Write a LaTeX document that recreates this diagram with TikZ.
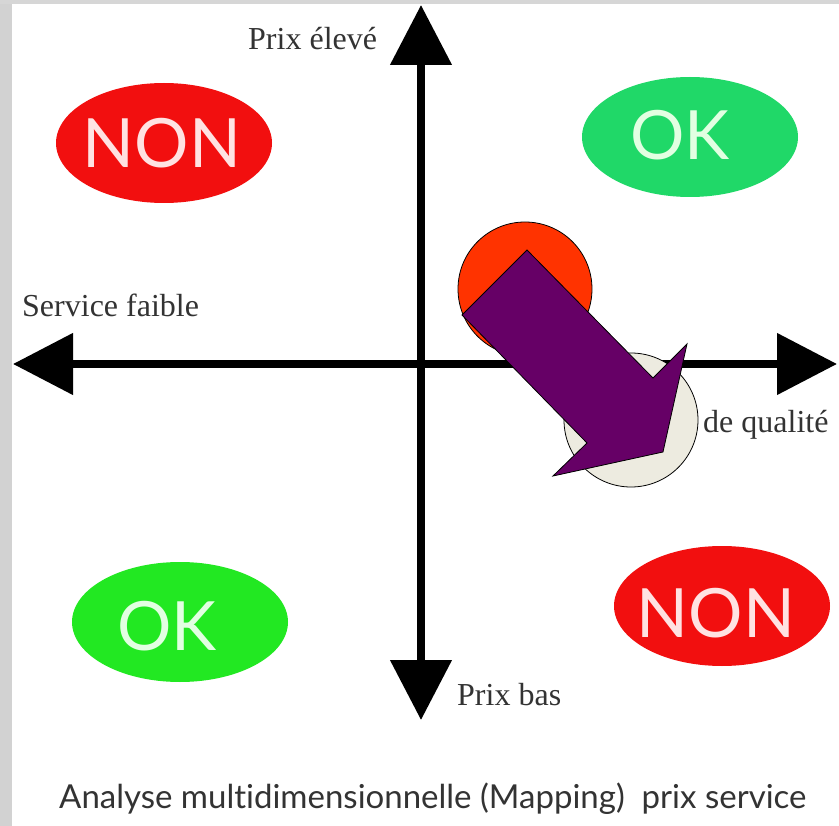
\documentclass[tikz,border=0pt]{standalone}
\usepackage{fontspec}
\newfontfamily\latofont{Lato}[Ligatures=NoCommon]
\newfontfamily\serifont{Liberation Serif}
\usetikzlibrary{arrows.meta,shapes.geometric}
\definecolor{nonred}{HTML}{F20F0F}
\definecolor{okgreenA}{HTML}{20D868}
\definecolor{okgreenB}{HTML}{22E822}
\definecolor{redtxt}{HTML}{FFE2E2}
\definecolor{greentxt}{HTML}{E2FFE2}
\definecolor{orangered}{HTML}{FF3300}
\definecolor{beige}{HTML}{EDEBE0}
\definecolor{plum}{HTML}{660066}
\definecolor{bordergray}{HTML}{D2D2D2}
\definecolor{labelgray}{HTML}{333333}
\tikzset{
  blob/.style={ellipse, minimum width=216pt, minimum height=120pt, inner sep=0pt},
  blobtext/.style={font=\latofont\fontsize{68}{68}\selectfont, anchor=base, inner sep=0pt},
  axislabel/.style={font=\serifont\fontsize{32}{32}\selectfont, text=labelgray, anchor=base west, inner sep=0pt},
  axisline/.style={line width=8pt, {Triangle[length=60pt,width=60pt]}-{Triangle[length=60pt,width=60pt]}},
  disc/.style={circle, draw=black, line width=0.8pt, minimum size=134pt, inner sep=0pt}
}
\begin{document}
\begin{tikzpicture}[x=1pt,y=-1pt]
\useasboundingbox (0,0) rectangle (839,826);
\fill[white] (0,0) rectangle (839,826);
\fill[bordergray] (0,0) rectangle (12,826);
\fill[bordergray!90] (0,0) rectangle (839,4);

% ellipses
\node[blob, fill=nonred] (nonA) at (164,143) {};
\node[blob, fill=okgreenA] (okA) at (690,137) {};
\node[blob, fill=okgreenB] (okB) at (180,622) {};
\node[blob, fill=nonred] (nonB) at (722,606) {};
\node[blobtext, text=redtxt] (nonAt) at (162,168) {NON};
\node[blobtext, text=greentxt] (okAt) at (680,160) {OK};
\node[blobtext, text=greentxt] (okBt) at (167,650) {OK};
\node[blobtext, text=redtxt] (nonBt) at (716,637) {NON};

% axes
\coordinate (top) at (421,5);
\coordinate (bottom) at (421,720);
\coordinate (left) at (13,364);
\coordinate (right) at (837,364);
\draw[axisline] (bottom) -- (top);
\draw[axisline] (left) -- (right);

% labels
\node[axislabel] (lhigh) at (248,50) {Prix élevé};
\node[axislabel] (lweak) at (22,317) {Service faible};
\node[axislabel] (lqual) at (703,433) {de qualité};
\node[axislabel] (llow) at (457,705) {Prix bas};

% circles
\node[disc, fill=orangered] (start) at (525,289) {};
\node[disc, fill=beige] (goal) at (631,420) {};

% purple arrow
\draw[fill=plum, draw=black, line width=0.8pt, line join=miter]
  (527,250) -- (462,315) -- (587,443) -- (553,476) -- (663,452)
  -- (687,344) -- (653,378) -- cycle;

% caption
\node[font=\latofont\fontsize{33}{33}\selectfont, text=labelgray, anchor=base west, inner sep=0pt] (caption) at (59,808) {Analyse multidimensionnelle (Mapping)\ \ prix service};
\end{tikzpicture}
\end{document}
